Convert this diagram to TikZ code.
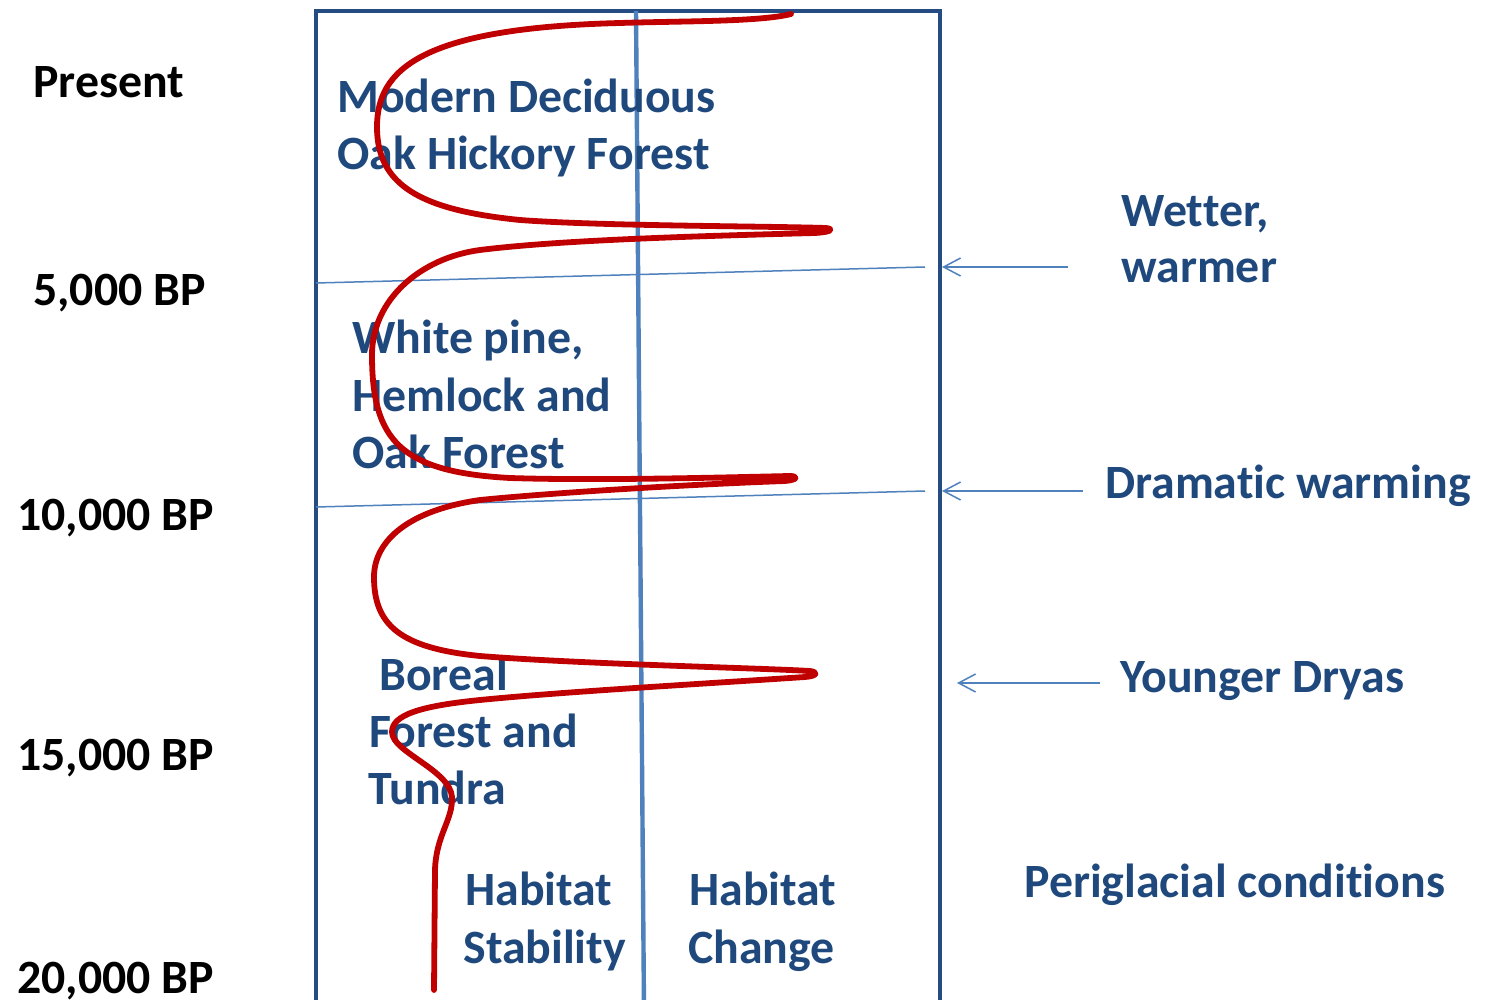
\documentclass[tikz,border=0pt]{standalone}
\usepackage{fontspec}
\setmainfont[RawFeature={-liga;-clig;-dlig;-calt}]{Carlito}
\usetikzlibrary{arrows.meta}
\definecolor{tblue}{RGB}{31,73,125}
\definecolor{fblue}{RGB}{37,76,130}
\definecolor{lblue}{RGB}{79,129,189}
\definecolor{cred}{RGB}{192,0,0}
\tikzset{
  lbl/.style={anchor=base west, inner sep=0pt, font=\bfseries\fontsize{23.9}{28}\selectfont, text=tblue},
  age/.style={lbl, text=black},
  frame/.style={draw=fblue, line width=2pt},
  midline/.style={draw=lblue, line width=2.2pt},
  thinline/.style={draw=lblue, line width=0.75pt},
  pointer/.style={draw=lblue, line width=0.75pt, -{Straight Barb[length=8.5pt, width=9pt, line width=0.75pt]}},
  curve/.style={draw=cred, line width=2.9pt, line cap=round, line join=round}
}
\begin{document}
\begin{tikzpicture}[x=0.5pt, y=-0.5pt]
\useasboundingbox (0,0) rectangle (1489,1000);
\clip (0,0) rectangle (1489,1000);
\fill[white] (0,0) rectangle (1489,1000);

% frame and centre line
\draw[frame] (316,1020) -- (316,11) -- (940,11) -- (940,1020);
\draw[midline] (636,11) -- (644,1010);

% time boundary lines
\coordinate (b5l) at (316,283);
\coordinate (b5r) at (925,267);
\coordinate (b10l) at (316,507);
\coordinate (b10r) at (925,491);
\draw[thinline] (b5l) -- (b5r);
\draw[thinline] (b10l) -- (b10r);

% pointers
\coordinate (p1s) at (1068,267);
\coordinate (p1e) at (942,267);
\coordinate (p2s) at (1083,491);
\coordinate (p2e) at (942,491);
\coordinate (p3s) at (1100,683);
\coordinate (p3e) at (957,683);
\draw[pointer] (p1s) -- (p1e);
\draw[pointer] (p2s) -- (p2e);
\draw[pointer] (p3s) -- (p3e);

% age labels
\node[age] (present) at (33,98) {Present};
\node[age] (a5) at (33,306) {5,000 BP};
\node[age] (a10) at (17,530) {10,000 BP};
\node[age] (a15) at (17,770) {15,000 BP};
\node[age] (a20) at (17,993) {20,000 BP};

% habitat labels
\node[lbl] (m1) at (337,113) {Modern Deciduous};
\node[lbl] (m2) at (337,170) {Oak Hickory Forest};
\node[lbl] (w1) at (352,354) {White pine,};
\node[lbl] (w2) at (352,411) {Hemlock and};
\node[lbl] (w3) at (352,468) {Oak Forest};
\node[lbl] (bo1) at (379,690) {Boreal};
\node[lbl] (bo2) at (369,747) {Forest and};
\node[lbl] (bo3) at (368,804) {Tundra};
\node[lbl] (hs1) at (465,905) {Habitat};
\node[lbl] (hs2) at (463,963) {Stability};
\node[lbl] (hc1) at (689,905) {Habitat};
\node[lbl] (hc2) at (688,963) {Change};

% climate labels
\node[lbl] (we1) at (1121,227) {Wet\kern0pt ter,};
\node[lbl] (we2) at (1121,283) {warmer};
\node[lbl] (dw) at (1105,498) {Dramat\kern0pt ic warming};
\node[lbl] (yd) at (1120,692) {Younger Dryas};
\node[lbl] (pg) at (1024,897) {Periglacial condit\kern0pt ions};

% red curve
\draw[curve] (791,14) .. controls (760,22) and (680,21) .. (620,23)
  .. controls (420,28) and (377,70) .. (377,127)
  .. controls (377,185) and (420,210) .. (520,220)
  .. controls (600,226) and (760,226) .. (826,228)
  .. controls (834,229) and (832,232) .. (815,233)
  .. controls (700,236) and (560,240) .. (480,250)
  .. controls (420,258) and (372,300) .. (372,355)
  .. controls (372,440) and (400,472) .. (510,478)
  .. controls (600,481) and (740,477) .. (790,476)
  .. controls (798,476) and (798,480) .. (785,481)
  .. controls (700,484) and (560,492) .. (480,500)
  .. controls (410,510) and (374,540) .. (374,577)
  .. controls (374,625) and (400,648) .. (480,656)
  .. controls (580,664) and (760,668) .. (810,671)
  .. controls (818,672) and (818,676) .. (805,677)
  .. controls (700,684) and (560,692) .. (480,700)
  .. controls (420,706) and (392,715) .. (392,732)
  .. controls (392,752) and (450,770) .. (452,797)
  .. controls (453,820) and (436,835) .. (435,870)
  -- (434,990);
\end{tikzpicture}
\end{document}
